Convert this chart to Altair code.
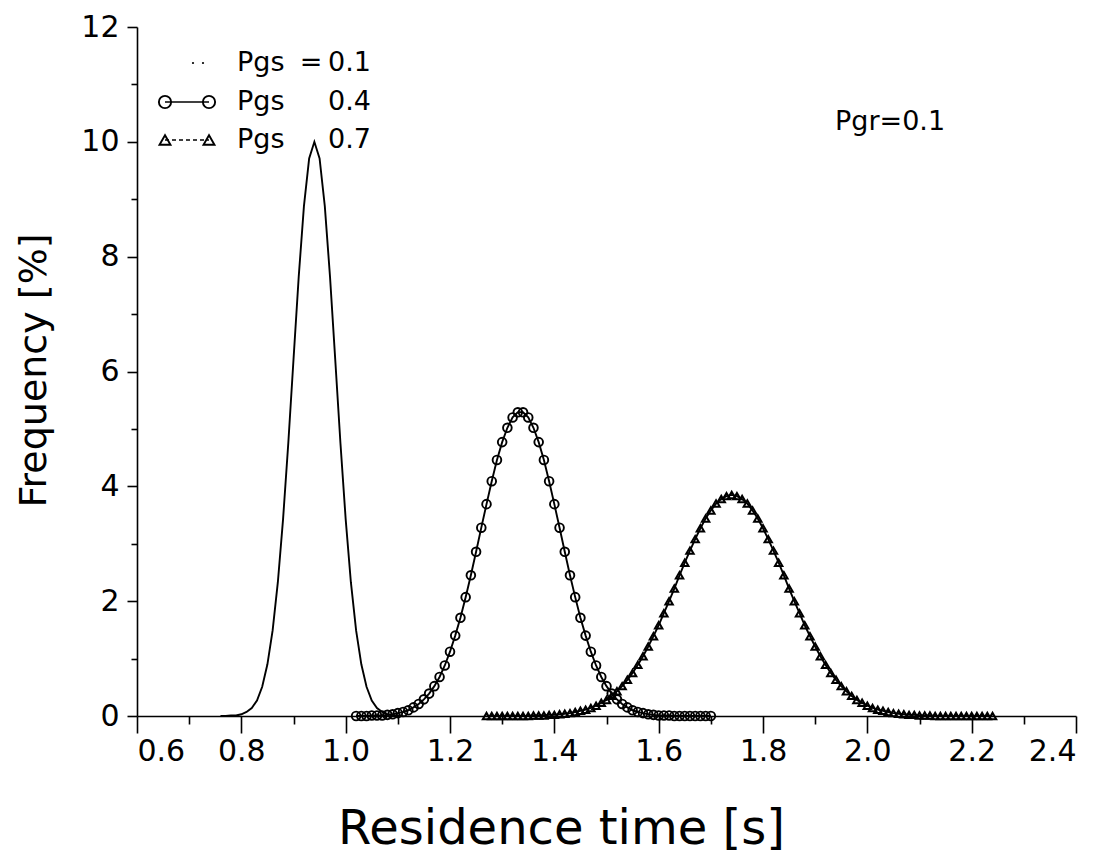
import altair as alt
import pandas as pd

# ---------------- data ----------------
x_p01 = [0.76, 0.77, 0.78, 0.79, 0.80, 0.81, 0.82, 0.83, 0.84, 0.85,
         0.86, 0.87, 0.88, 0.89, 0.90, 0.91, 0.92, 0.93, 0.94, 0.95,
         0.96, 0.97, 0.98, 0.99, 1.00, 1.01, 1.02, 1.03, 1.04, 1.05,
         1.06, 1.07, 1.08, 1.09, 1.10, 1.11]
y_p01 = [0.00, 0.00, 0.01, 0.01, 0.03, 0.07, 0.14, 0.27, 0.51, 0.90,
         1.49, 2.33, 3.43, 4.75, 6.21, 7.65, 8.88, 9.71, 10.00, 9.71,
         8.88, 7.65, 6.21, 4.75, 3.43, 2.33, 1.49, 0.90, 0.51, 0.27,
         0.14, 0.07, 0.03, 0.01, 0.01, 0.00]

x_p04 = [1.02, 1.03, 1.04, 1.05, 1.06, 1.07, 1.08, 1.09, 1.10, 1.11,
         1.12, 1.13, 1.14, 1.15, 1.16, 1.17, 1.18, 1.19, 1.20, 1.21,
         1.22, 1.23, 1.24, 1.25, 1.26, 1.27, 1.28, 1.29, 1.30, 1.31,
         1.32, 1.33, 1.34, 1.35, 1.36, 1.37, 1.38, 1.39, 1.40, 1.41,
         1.42, 1.43, 1.44, 1.45, 1.46, 1.47, 1.48, 1.49, 1.50, 1.51,
         1.52, 1.53, 1.54, 1.55, 1.56, 1.57, 1.58, 1.59, 1.60, 1.61,
         1.62, 1.63, 1.64, 1.65, 1.66, 1.67, 1.68, 1.69, 1.70]
y_p04 = [0.00, 0.00, 0.00, 0.01, 0.01, 0.01, 0.02, 0.03, 0.05, 0.07,
         0.10, 0.15, 0.21, 0.29, 0.39, 0.52, 0.68, 0.88, 1.12, 1.40,
         1.71, 2.07, 2.45, 2.86, 3.28, 3.69, 4.09, 4.46, 4.77, 5.02,
         5.20, 5.29, 5.29, 5.20, 5.02, 4.77, 4.46, 4.09, 3.69, 3.28,
         2.86, 2.45, 2.07, 1.71, 1.40, 1.12, 0.88, 0.68, 0.52, 0.39,
         0.29, 0.21, 0.15, 0.10, 0.07, 0.05, 0.03, 0.02, 0.01, 0.01,
         0.01, 0.00, 0.00, 0.00, 0.00, 0.00, 0.00, 0.00, 0.00]

x_p07 = [1.27, 1.28, 1.29, 1.30, 1.31, 1.32, 1.33, 1.34, 1.35, 1.36,
         1.37, 1.38, 1.39, 1.40, 1.41, 1.42, 1.43, 1.44, 1.45, 1.46,
         1.47, 1.48, 1.49, 1.50, 1.51, 1.52, 1.53, 1.54, 1.55, 1.56,
         1.57, 1.58, 1.59, 1.60, 1.61, 1.62, 1.63, 1.64, 1.65, 1.66,
         1.67, 1.68, 1.69, 1.70, 1.71, 1.72, 1.73, 1.74, 1.75, 1.76,
         1.77, 1.78, 1.79, 1.80, 1.81, 1.82, 1.83, 1.84, 1.85, 1.86,
         1.87, 1.88, 1.89, 1.90, 1.91, 1.92, 1.93, 1.94, 1.95, 1.96,
         1.97, 1.98, 1.99, 2.00, 2.01, 2.02, 2.03, 2.04, 2.05, 2.06,
         2.07, 2.08, 2.09, 2.10, 2.11, 2.12, 2.13, 2.14, 2.15, 2.16,
         2.17, 2.18, 2.19, 2.20, 2.21, 2.22, 2.23, 2.24]
y_p07 = [0.00, 0.00, 0.00, 0.00, 0.00, 0.00, 0.00, 0.00, 0.00, 0.01,
         0.01, 0.01, 0.02, 0.02, 0.03, 0.04, 0.05, 0.07, 0.09, 0.11,
         0.14, 0.18, 0.23, 0.28, 0.35, 0.43, 0.52, 0.63, 0.75, 0.89,
         1.04, 1.21, 1.39, 1.58, 1.79, 2.00, 2.22, 2.45, 2.67, 2.88,
         3.08, 3.27, 3.44, 3.58, 3.70, 3.78, 3.83, 3.85, 3.83, 3.78,
         3.70, 3.58, 3.44, 3.27, 3.08, 2.88, 2.67, 2.45, 2.22, 2.00,
         1.79, 1.58, 1.39, 1.21, 1.04, 0.89, 0.75, 0.63, 0.52, 0.43,
         0.35, 0.28, 0.23, 0.18, 0.14, 0.11, 0.09, 0.07, 0.05, 0.04,
         0.03, 0.02, 0.02, 0.01, 0.01, 0.01, 0.00, 0.00, 0.00, 0.00,
         0.00, 0.00, 0.00, 0.00, 0.00, 0.00, 0.00, 0.00]

x_major = [0.6, 0.8, 1.0, 1.2, 1.4, 1.6, 1.8, 2.0, 2.2, 2.4]
x_minor = [0.7, 0.9, 1.1, 1.3, 1.5, 1.7, 1.9, 2.1, 2.3]
y_major = [0, 2, 4, 6, 8, 10, 12]
y_minor = [1, 3, 5, 7, 9, 11]

legend_names = ["Pgs", "Pgs", "Pgs"]
legend_eq = ["=", "", ""]
legend_vals = ["0.1", "0.4", "0.7"]
note_text = "Pgr=0.1"
x_title = "Residence time [s]"
y_title = "Frequency [%]"

# ---------------- chart ----------------
FONT = "DejaVu Sans ExtraLight, DejaVu Sans"
W, H = 939, 689
SW = 1.9

xs = alt.Scale(domain=[0.6, 2.4], nice=False, zero=False)
ys = alt.Scale(domain=[0, 12], nice=False, zero=False)

df01 = pd.DataFrame({"t": x_p01, "f": y_p01})
df04 = pd.DataFrame({"t": x_p04, "f": y_p04})
df07 = pd.DataFrame({"t": x_p07, "f": y_p07})

x_axis_major = alt.Axis(
    orient="bottom", values=x_major, format=".1f", grid=False,
    tickSize=17, tickWidth=1.6, tickColor="black",
    domainColor="black", domainWidth=1.6,
    labelFont=FONT, labelFontSize=30, labelColor="black", labelPadding=3,
    title=x_title, titleFont=FONT, titleFontSize=48, titleFontWeight="normal",
    titleColor="black", titleX=424, titleY=127, titleAlign="center",
    titleBaseline="alphabetic",
)
y_axis_major = alt.Axis(
    orient="left", values=y_major, format="d", grid=False,
    tickSize=10, tickWidth=1.6, tickColor="black",
    domainColor="black", domainWidth=1.6,
    labelFont=FONT, labelFontSize=30, labelColor="black", labelPadding=8,
    title=y_title, titleFont=FONT, titleFontSize=38, titleFontWeight="normal",
    titleColor="black", titleX=-92, titleY=343, titleAngle=270,
    titleAlign="center", titleBaseline="alphabetic",
)
x_axis_minor = alt.Axis(
    orient="bottom", values=x_minor, grid=False, labels=False, domain=False,
    tickSize=8, tickWidth=1.6, tickColor="black", title="",
)
y_axis_minor = alt.Axis(
    orient="left", values=y_minor, grid=False, labels=False, domain=False,
    tickSize=6, tickWidth=1.6, tickColor="black", title="",
)

line01 = alt.Chart(df01).mark_line(color="black", strokeWidth=SW).encode(
    x=alt.X("t:Q", scale=xs, axis=x_axis_major),
    y=alt.Y("f:Q", scale=ys, axis=y_axis_major),
)
minor = alt.Chart(df01).mark_line(opacity=0).encode(
    x=alt.X("t:Q", scale=xs, axis=x_axis_minor),
    y=alt.Y("f:Q", scale=ys, axis=y_axis_minor),
)
line04 = alt.Chart(df04).mark_line(color="black", strokeWidth=SW).encode(
    x=alt.X("t:Q", scale=xs, axis=None),
    y=alt.Y("f:Q", scale=ys, axis=None),
)
pts04 = alt.Chart(df04).mark_point(
    shape="circle", filled=False, color="black", size=75, strokeWidth=SW, opacity=1
).encode(
    x=alt.X("t:Q", scale=xs, axis=None),
    y=alt.Y("f:Q", scale=ys, axis=None),
)
line07 = alt.Chart(df07).mark_line(color="black", strokeWidth=SW).encode(
    x=alt.X("t:Q", scale=xs, axis=None),
    y=alt.Y("f:Q", scale=ys, axis=None),
)
pts07 = alt.Chart(df07).mark_point(
    shape="triangle-up", filled=False, color="black", size=55, strokeWidth=2.0, opacity=1
).encode(
    x=alt.X("t:Q", scale=xs, axis=None),
    y=alt.Y("f:Q", scale=ys, axis=None),
)


def txt(s, x, y, size=27, align="left"):
    return alt.Chart(pd.DataFrame({"s": [s]})).mark_text(
        align=align, baseline="middle", font=FONT, fontSize=size, color="black"
    ).encode(x=alt.value(x), y=alt.value(y), text="s:N")


def sym(shape, x, y, size, filled=False):
    return alt.Chart(pd.DataFrame({"s": [shape]})).mark_point(
        shape=shape, filled=filled, color="black", size=size, strokeWidth=SW, opacity=1
    ).encode(x=alt.value(x), y=alt.value(y))


def seg(x1, x2, y, dash=None):
    kw = dict(color="black", strokeWidth=1.5)
    if dash:
        kw["strokeDash"] = dash
    return alt.Chart(pd.DataFrame({"s": [0]})).mark_rule(**kw).encode(
        x=alt.value(x1), x2=alt.value(x2), y=alt.value(y)
    )


rows_y = [36, 75, 113]
legend_layers = []
for i in range(3):
    legend_layers.append(txt(legend_names[i], 100, rows_y[i]))
    if legend_eq[i]:
        legend_layers.append(txt(legend_eq[i], 174, rows_y[i], align="center"))
    legend_layers.append(txt(legend_vals[i], 191, rows_y[i]))
legend_layers += [
    sym("circle", 56, rows_y[0], 5, filled=True),
    sym("circle", 66, rows_y[0], 5, filled=True),
    seg(28, 72, rows_y[1]),
    sym("circle", 28, rows_y[1], 150),
    sym("circle", 72, rows_y[1], 150),
    seg(28, 72, rows_y[2], dash=[4, 3]),
    sym("triangle-up", 28, rows_y[2], 120),
    sym("triangle-up", 72, rows_y[2], 120),
    txt(note_text, 698, 95),
]

chart = alt.layer(
    line01, minor, line04, pts04, line07, pts07, *legend_layers
).resolve_axis(
    x="independent", y="independent"
).properties(
    width=W, height=H,
    autosize=alt.AutoSizeParams(type="none"),
    padding={"left": 137, "top": 27, "right": 28, "bottom": 141},
    background="white",
).configure_view(strokeWidth=0)

chart.save("out.html", embed_options={"renderer": "svg", "actions": False})
